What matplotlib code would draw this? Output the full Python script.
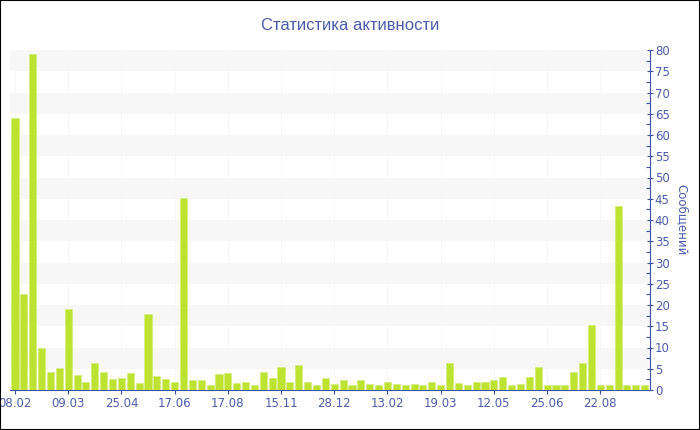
import numpy as np
import matplotlib
matplotlib.use("Agg")
from matplotlib import pyplot as plt
from matplotlib.patches import Rectangle

# weekly message counts
messages = [
    64, 22.7, 79, 9.9, 4.2, 5.25, 19, 3.5, 1.8, 6.3,
    4.2, 2.5, 2.9, 4.0, 1.6, 17.9, 3.2, 2.5, 1.9, 45.2,
    2.3, 2.3, 1.25, 3.8, 4.0, 1.65, 1.8, 1.25, 4.2, 2.75,
    5.5, 1.9, 6.0, 2.0, 1.25, 2.75, 1.5, 2.3, 1.25, 2.3,
    1.5, 1.25, 2.0, 1.5, 1.25, 1.5, 1.25, 1.9, 1.25, 6.3,
    1.65, 1.25, 1.8, 1.95, 2.3, 3.05, 1.25, 1.5, 3.05, 5.3,
    1.25, 1.25, 1.25, 4.3, 6.3, 15.2, 1.25, 1.25, 43.3, 1.25,
    1.25, 1.25,
]
date_labels = ["08.02", "09.03", "25.04", "17.06", "17.08", "15.11",
               "28.12", "13.02", "19.03", "12.05", "25.06", "22.08"]
label_step = 6

title = "Статистика активности"
y_label = "Сообщений"

axis_color = "#3d51a0"
text_color = "#4a5caa"
bar_color = "#bde22f"

fig = plt.figure(figsize=(7, 4.3), dpi=100)
ax = fig.add_axes([10 / 700, 40 / 430, 640 / 700, 340 / 430])

x = np.arange(len(messages))
ax.set_xlim(-0.56, 71.6)
ax.set_ylim(0, 80)

# alternating background bands
for lo in range(5, 80, 10):
    ax.axhspan(lo, lo + 5, color="#f7f7f7", lw=0, zorder=0)

ax.bar(x, messages, width=0.8, color=bar_color, edgecolor="#d3ec7e",
       linewidth=0.5, zorder=3)

ticks = x[::label_step]
ax.set_xticks(ticks)
ax.set_xticklabels(date_labels)
for t in ticks:
    ax.axvline(t, color="#f6f6f6", lw=0.6, zorder=1)

ax.yaxis.tick_right()
ax.yaxis.set_label_position("right")
ax.set_yticks(np.arange(0, 81, 5))
ax.set_yticks(np.arange(2.5, 80, 5), minor=True)
ax.tick_params(axis="y", which="major", direction="inout", length=5,
               width=0.8, color=axis_color, labelcolor=text_color,
               labelsize=8.5, pad=1)
ax.tick_params(axis="y", which="minor", direction="in", length=3,
               width=0.8, color=axis_color)
ax.tick_params(axis="x", direction="out", length=3, width=0.8,
               color=axis_color, labelcolor=text_color, labelsize=8.5, pad=2)

for side in ["top", "left"]:
    ax.spines[side].set_visible(False)
ax.spines["right"].set_color(axis_color)
ax.spines["bottom"].set_color(axis_color)
ax.spines["right"].set_linewidth(0.8)
ax.spines["bottom"].set_linewidth(0.8)

ax.set_ylabel(y_label, rotation=270, color=text_color, fontsize=8.5,
              labelpad=13)
fig.text(0.5, 1 - 25 / 430, title, ha="center", va="center",
         color=text_color, fontsize=12, family="Liberation Sans")

# thin frame round the whole picture
fig.patches.append(Rectangle((0, 0), 1, 1, transform=fig.transFigure,
                             fill=False, edgecolor="black", lw=1.5))

fig.savefig("out.png", dpi=100)
